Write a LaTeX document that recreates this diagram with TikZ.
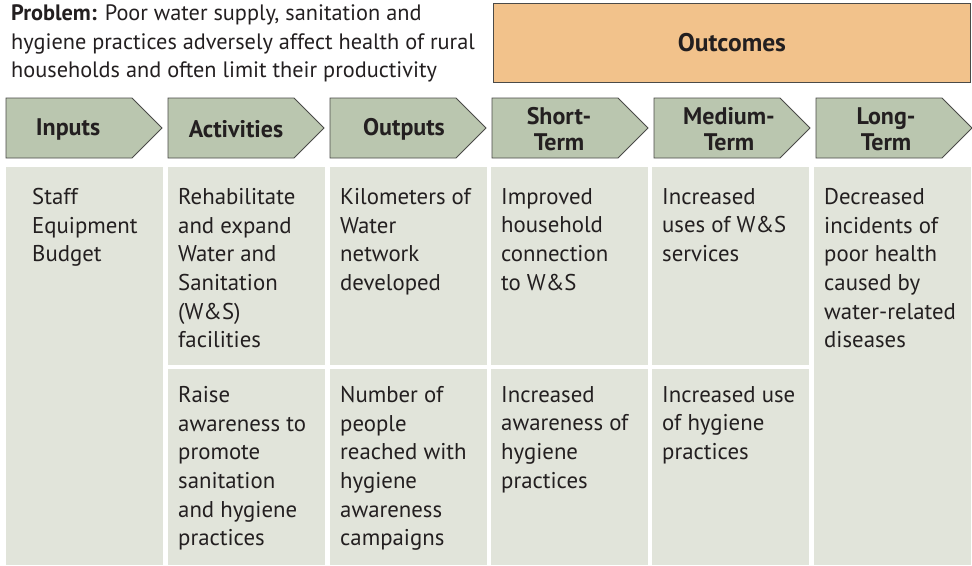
\documentclass[tikz,border=0pt]{standalone}
\usepackage{fontspec}
\setmainfont{PT Sans}
\usetikzlibrary{positioning}
\definecolor{hdrgreen}{HTML}{BAC6AF}
\definecolor{cellgray}{HTML}{E1E4DA}
\definecolor{outorange}{HTML}{F2C28B}
\definecolor{inkgray}{HTML}{231F20}
\definecolor{linegray}{HTML}{4A4A48}

\begin{document}
\begin{tikzpicture}[x=1pt,y=-1pt,
	txt/.style={anchor=north west,align=left,inner sep=0,text=inkgray,font=\fontsize{22.8}{28.7}\selectfont},
	hdr/.style={align=center,inner sep=0,text=inkgray,font=\bfseries\fontsize{24}{26}\selectfont},
	cellbox/.style={fill=cellgray},
	arrowbox/.style={fill=hdrgreen,draw=linegray,line width=0.8pt}]
	\useasboundingbox (0,0) rectangle (972,565);

	%PROBLEM AND OUTCOMES
	\node[txt,font=\fontsize{22.3}{28.7}\selectfont] (problem) at (11,4.5) {\textbf{Problem:} Poor water supply, sanitation and \\ hygiene practices adversely affect health of rural \\ households and often limit their productivity};
	\node[draw=linegray,fill=outorange,line width=0.8pt,minimum width=477,minimum height=79,anchor=north west,inner sep=0] (outcomes) at (493,3) {};
	\node[hdr,font=\bfseries\fontsize{25.5}{28}\selectfont] (outlabel) at (outcomes.center) {Outcomes};

	%HEADER ARROWS
	\foreach \x/\c/\t [count=\i] in {6/68/{Inputs}, 168/236/{Activities}, 330/404/{Outputs}, 492/559/{Short-\\Term}, 654/729/{Medium-\\Term}, 816/886/{Long-\\Term}} {
		\draw[arrowbox] (\x,98) -- (\x+126,98) -- (\x+156,128) -- (\x+126,158) -- (\x,158) -- cycle;
		\node[hdr] (h\i) at (\c,129) {\t};
	}

	%CELLS
	\fill[cellbox] (6,167) rectangle (163,565);
	\foreach \x in {168,330,491,652} {
		\fill[cellbox] (\x,167) rectangle +(157,198);
		\fill[cellbox] (\x,369) rectangle +(157,196);
	}
	\fill[cellbox] (814,167) rectangle (971,565);

	%UPPER ROW
	\node[txt] (inp) at (32,188) {Staff \\ Equipment \\ Budget};
	\node[txt] (act1) at (178,188) {Rehabilitate \\ and expand \\ Water and \\ Sanitation \\ (W\&S) \\ facilities};
	\node[txt] (out1) at (340,188) {Kilometers of \\ Water \\ network \\ developed};
	\node[txt] (st1) at (501,188) {Improved \\ household \\ connection \\ to W\&S};
	\node[txt] (mt1) at (662,188) {Increased \\ uses of W\&S \\ services};
	\node[txt] (lt) at (824,188) {Decreased \\ incidents of \\ poor health \\ caused by \\ water-related \\ diseases};

	%LOWER ROW
	\node[txt] (act2) at (178,386) {Raise \\ awareness to \\ promote \\ sanitation \\ and hygiene \\ practices};
	\node[txt] (out2) at (340,386) {Number of \\ people \\ reached with \\ hygiene \\ awareness \\ campaigns};
	\node[txt] (st2) at (501,386) {Increased \\ awareness of \\ hygiene \\ practices};
	\node[txt] (mt2) at (662,386) {Increased use \\ of hygiene \\ practices};
\end{tikzpicture}
\end{document}
